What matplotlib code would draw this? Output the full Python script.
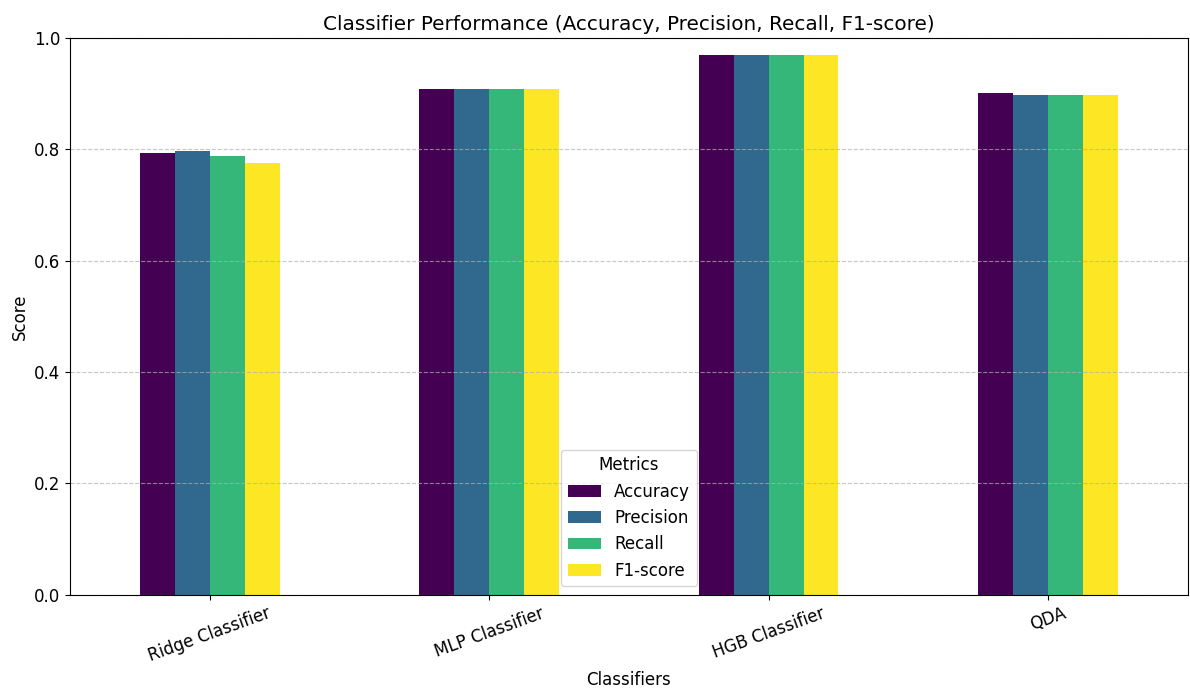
import numpy as np
import pandas as pd
import matplotlib
matplotlib.use("Agg")
import matplotlib.pyplot as plt

plt.rcParams["font.size"] = 12

classifiers = ["Ridge Classifier", "MLP Classifier", "HGB Classifier", "QDA"]
accuracy = [0.794, 0.908, 0.969, 0.901]
precision = [0.797, 0.908, 0.969, 0.898]
recall = [0.788, 0.908, 0.969, 0.898]
f1_score = [0.775, 0.908, 0.969, 0.898]

df = pd.DataFrame({
    "Accuracy": accuracy,
    "Precision": precision,
    "Recall": recall,
    "F1-score": f1_score,
}, index=classifiers)

fig, ax = plt.subplots(figsize=(11.9, 6.9), dpi=100)
df.plot(kind="bar", ax=ax, colormap="viridis", rot=20)

ax.set_title("Classifier Performance (Accuracy, Precision, Recall, F1-score)")
ax.set_xlabel("Classifiers")
ax.set_ylabel("Score")
ax.set_ylim(0, 1.0)
ax.grid(axis="y", linestyle="--", alpha=0.7)
ax.legend(title="Metrics", loc="lower center")

fig.subplots_adjust(left=0.059, right=0.998, top=0.945, bottom=0.138)
fig.savefig("out.png", dpi=100)
